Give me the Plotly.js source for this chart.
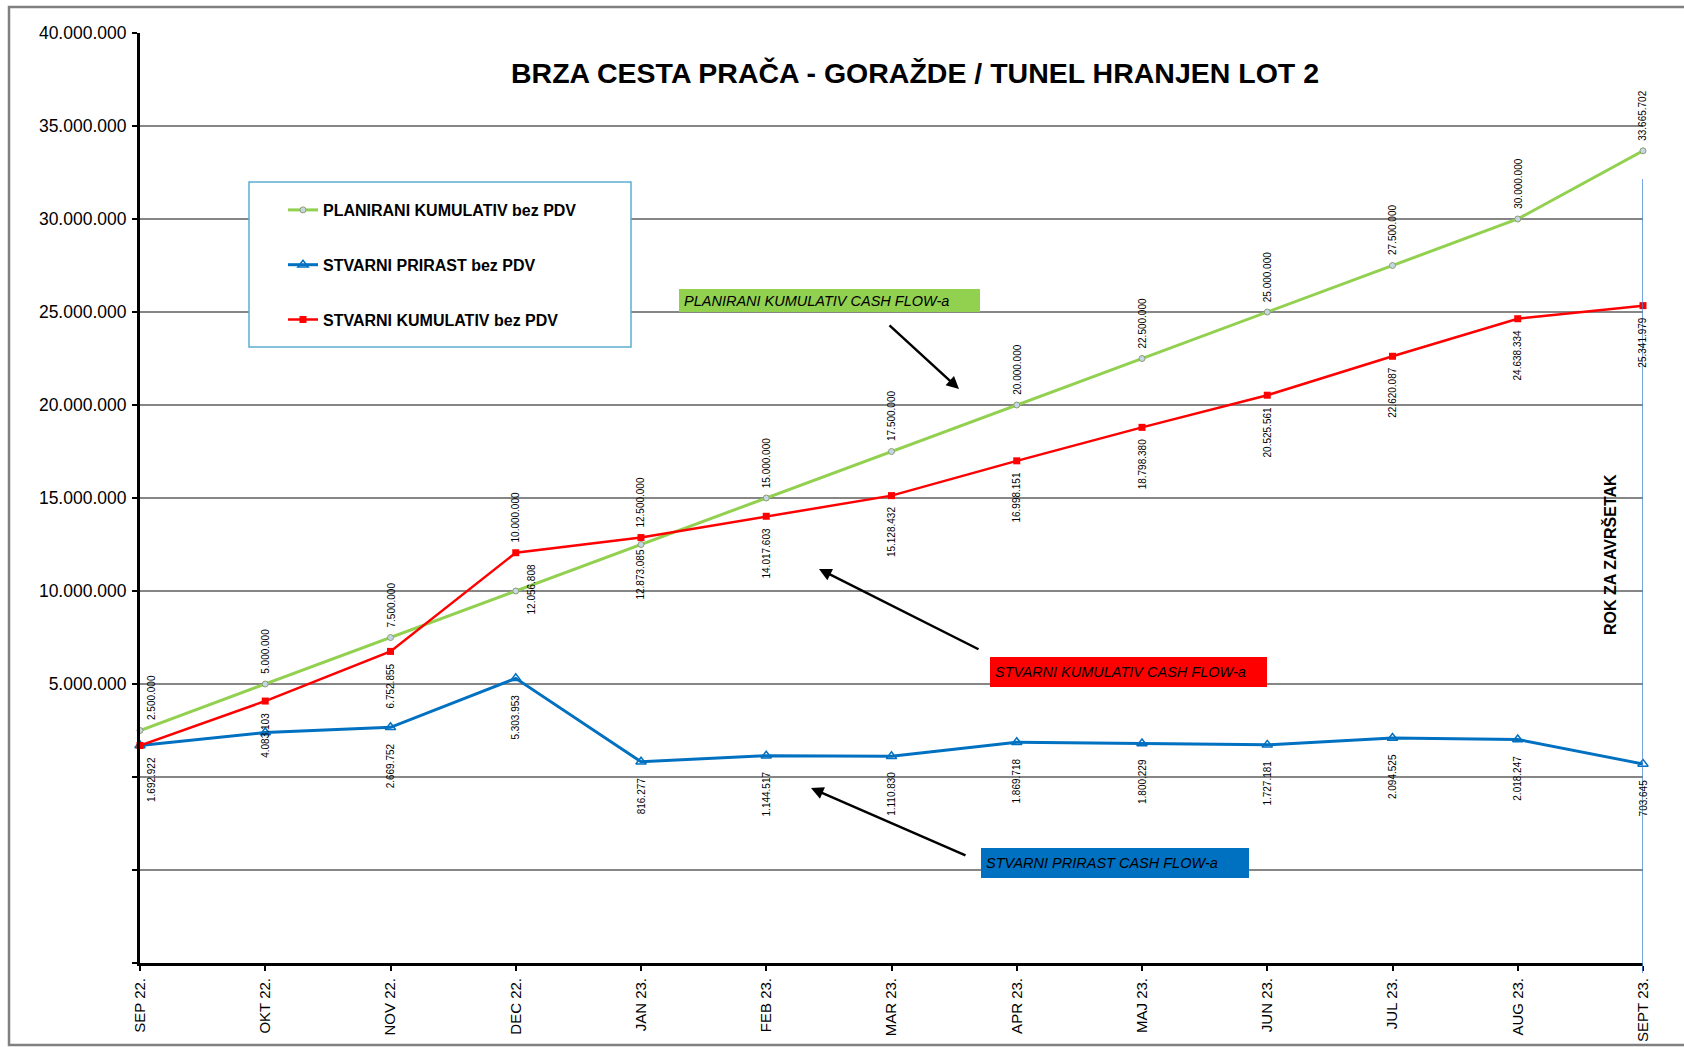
<!DOCTYPE html>
<html>
<head>
<meta charset="utf-8">
<script src="https://cdn.plot.ly/plotly-3.0.1.min.js"></script>
<style>
  html, body { margin: 0; padding: 0; background: #ffffff; }
  #chart { width: 1684px; height: 1047px; }
</style>
</head>
<body>
<div id="chart"></div>
<script>
// ---------------- DATA ----------------
const months = ['SEP 22.', 'OKT 22.', 'NOV 22.', 'DEC 22.', 'JAN 23.', 'FEB 23.', 'MAR 23.',
                'APR 23.', 'MAJ 23.', 'JUN 23.', 'JUL 23.', 'AUG 23.', 'SEPT 23.'];
const planiraniKumulativ = [2500000, 5000000, 7500000, 10000000, 12500000, 15000000, 17500000,
                            20000000, 22500000, 25000000, 27500000, 30000000, 33665702];
const stvarniPrirast = [1692922, 2390181, 2669752, 5303953, 816277, 1144517, 1110830,
                        1869718, 1800229, 1727181, 2094525, 2018247, 703645];
const stvarniKumulativ = [1692922, 4083103, 6752855, 12056808, 12873085, 14017603, 15128432,
                          16998151, 18798380, 20525561, 22620087, 24638334, 25341979];
const yTickVals = [-10000000, -5000000, 0, 5000000, 10000000, 15000000, 20000000,
                   25000000, 30000000, 35000000, 40000000];
const yTickText = ['', '', '', '5.000.000', '10.000.000', '15.000.000', '20.000.000',
                   '25.000.000', '30.000.000', '35.000.000', '40.000.000'];
const seriesNames = ['PLANIRANI KUMULATIV bez PDV', 'STVARNI PRIRAST bez PDV', 'STVARNI KUMULATIV bez PDV'];
const chartTitle = 'BRZA CESTA PRAČA - GORAŽDE / TUNEL HRANJEN LOT 2';
const calloutTexts = ['PLANIRANI KUMULATIV CASH FLOW-a', 'STVARNI KUMULATIV CASH FLOW-a', 'STVARNI PRIRAST CASH FLOW-a'];
const deadlineText = 'ROK ZA ZAVRŠETAK';

// ---------------- LAYOUT HELPERS ----------------
const W = 1684, H = 1047;
const L = 140, R = 1643, T = 33, B = 963;
const px = x => (x - L) / (R - L);
const py = y => (B - y) / (B - T);
const FONT = 'Liberation Sans, Arial, sans-serif';
const fmt = v => Math.round(v).toString().replace(/\B(?=(\d{3})+(?!\d))/g, '.');

const GREEN = '#92d050', RED = '#ff0000', BLUE = '#0070c0';

const traces = [
  {
    x: months, y: planiraniKumulativ, name: seriesNames[0], type: 'scatter', mode: 'lines+markers',
    legendgroup: 'a', cliponaxis: false,
    line: { color: GREEN, width: 3 },
    marker: { symbol: 'circle', size: 6, color: '#c6d6e8', line: { color: '#8aa06a', width: 1 } }
  },
  {
    x: months, y: stvarniPrirast, name: seriesNames[1], type: 'scatter', mode: 'lines+markers',
    legendgroup: 'b', cliponaxis: false,
    line: { color: BLUE, width: 3 },
    marker: { symbol: 'triangle-up-open', size: 9, color: BLUE, line: { color: BLUE, width: 1.5 } }
  },
  {
    x: months, y: stvarniKumulativ, name: seriesNames[2], type: 'scatter', mode: 'lines+markers',
    legendgroup: 'c', cliponaxis: false,
    line: { color: RED, width: 2.5 },
    marker: { symbol: 'square', size: 7, color: RED }
  }
];

const annotations = [];
const labelFont = { family: FONT, size: 10, color: '#000000' };
months.forEach((m, i) => {
  const edgeShift = i === 0 ? 11 : 0; // keep first labels clear of the y axis line
  // planned label sits above both cumulative points so it never collides with the red marker
  annotations.push({ xref: 'x', yref: 'y', x: m, y: Math.max(planiraniKumulativ[i], stvarniKumulativ[i]),
    text: fmt(planiraniKumulativ[i]), textangle: -90, showarrow: false, xanchor: 'center', yanchor: 'bottom',
    yshift: 8, xshift: edgeShift, font: labelFont });
  annotations.push({ xref: 'x', yref: 'y', x: m, y: stvarniKumulativ[i], text: fmt(stvarniKumulativ[i]),
    textangle: -90, showarrow: false, xanchor: 'center', yanchor: 'top', yshift: -10,
    xshift: edgeShift + (i === 3 ? 16 : 0), font: labelFont });
  // first two increment labels are hidden behind the cumulative labels in the original
  if (i > 1) {
    annotations.push({ xref: 'x', yref: 'y', x: m, y: stvarniPrirast[i], text: fmt(stvarniPrirast[i]),
      textangle: -90, showarrow: false, xanchor: 'center', yanchor: 'top', yshift: -14, font: labelFont });
  }
});

// callout boxes
const callouts = [
  { text: calloutTexts[0], bg: GREEN, x0: 679, x1: 980, y0: 289, y1: 312 },
  { text: calloutTexts[1], bg: RED, x0: 990, x1: 1267, y0: 657, y1: 687 },
  { text: calloutTexts[2], bg: BLUE, x0: 981, x1: 1249, y0: 848, y1: 878 }
];
const pad = 5;
callouts.forEach(c => {
  annotations.push({ xref: 'paper', yref: 'paper', x: px(c.x0), y: py(c.y0), xanchor: 'left', yanchor: 'top',
    text: c.text, showarrow: false, align: 'left', valign: 'middle',
    width: c.x1 - c.x0 - 2 * pad, height: c.y1 - c.y0 - 2 * pad, borderpad: pad, bgcolor: c.bg, borderwidth: 0,
    font: { family: FONT, size: 14.5, color: '#000000', style: 'italic' } });
});

// arrows
const arrows = [
  { tip: [959, 389], tail: [888, 324] },
  { tip: [819, 569], tail: [980, 650] },
  { tip: [811, 788], tail: [967, 856] }
];
arrows.forEach(a => {
  annotations.push({ xref: 'paper', yref: 'paper', axref: 'paper', ayref: 'paper',
    x: px(a.tip[0]), y: py(a.tip[1]), ax: px(a.tail[0]), ay: py(a.tail[1]),
    text: '', showarrow: true, arrowhead: 2, arrowsize: 1, arrowwidth: 2.5, arrowcolor: '#000000' });
});

// deadline text
annotations.push({ xref: 'paper', yref: 'paper', x: px(1610), y: py(555), xanchor: 'center', yanchor: 'middle',
  text: '<b>' + deadlineText + '</b>', textangle: -90, showarrow: false,
  font: { family: FONT, size: 16, color: '#000000' } });

const shapes = [
  // outer chart frame
  { type: 'rect', xref: 'paper', yref: 'paper', x0: px(9), x1: px(1700), y0: py(7), y1: py(1045),
    line: { color: '#808080', width: 2.5 }, fillcolor: 'rgba(0,0,0,0)', layer: 'below' },
  // legend box
  { type: 'rect', xref: 'paper', yref: 'paper', x0: px(249), x1: px(631), y0: py(182), y1: py(347),
    line: { color: '#5aaed0', width: 1.5 }, fillcolor: '#ffffff', layer: 'above' },
  // deadline line
  { type: 'line', xref: 'x', yref: 'paper', x0: months[months.length - 1], x1: months[months.length - 1],
    y0: py(179), y1: py(973), line: { color: '#4a86d4', width: 1.5 }, layer: 'above' }
];

const layout = {
  width: W, height: H,
  paper_bgcolor: '#ffffff', plot_bgcolor: '#ffffff',
  margin: { l: L, r: W - R, t: T, b: H - B, pad: 0 },
  title: { text: '<b>' + chartTitle + '</b>', x: 915 / W, xref: 'container', xanchor: 'center',
    y: 1 - 73 / H, yref: 'container', yanchor: 'middle',
    font: { family: FONT, size: 28.5, color: '#000000' } },
  xaxis: {
    type: 'category', categoryorder: 'array', categoryarray: months,
    range: [0, months.length - 1], showgrid: false, zeroline: false,
    showline: true, linecolor: '#000000', linewidth: 3,
    ticks: 'outside', ticklen: 5, tickwidth: 2, tickcolor: '#000000',
    tickangle: -90, ticklabelstandoff: 1,
    tickfont: { family: FONT, size: 15, color: '#000000' }
  },
  yaxis: {
    range: [-10000000, 40000000], tickmode: 'array', tickvals: yTickVals, ticktext: yTickText,
    showgrid: true, gridcolor: '#868686', gridwidth: 1.4, zeroline: false,
    showline: true, linecolor: '#000000', linewidth: 3,
    ticks: 'outside', ticklen: 5, tickwidth: 2, tickcolor: '#000000', ticklabelstandoff: 2,
    tickfont: { family: FONT, size: 17.5, color: '#000000' }
  },
  showlegend: true,
  legend: {
    x: px(283), y: py(193), xanchor: 'left', yanchor: 'top',
    bgcolor: 'rgba(0,0,0,0)', borderwidth: 0, traceorder: 'grouped', tracegroupgap: 31,
    itemwidth: 30,
    font: { family: FONT, size: 16, color: '#000000', weight: 'bold' }
  },
  annotations: annotations,
  shapes: shapes
};

Plotly.newPlot('chart', traces, layout, { displayModeBar: false, staticPlot: true });
</script>
</body>
</html>
